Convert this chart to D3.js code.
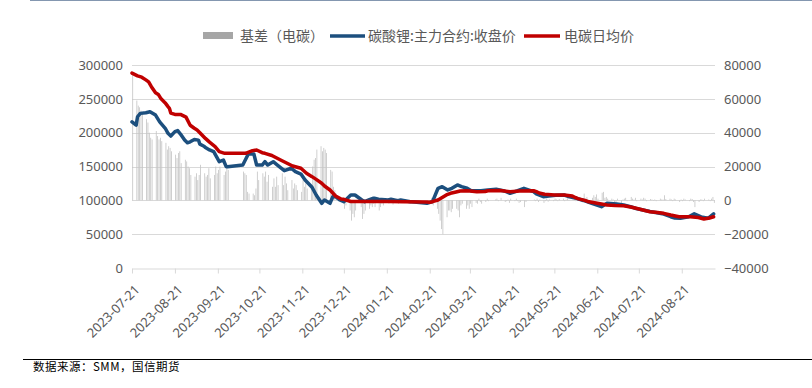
<!DOCTYPE html>
<html><head><meta charset="utf-8">
<script src="https://cdn.jsdelivr.net/npm/d3@7"></script>
<style>body{margin:0;background:#fff;} svg{display:block;}</style>
</head><body><svg id="chart" width="812" height="388"></svg>
<script>
// ---------- DATA ----------
const seriesNames = ["基差（电碳）", "碳酸锂:主力合约:收盘价", "电碳日均价"];
const sourceNote = "数据来源：SMM，国信期货";
const leftTicks = [0, 50000, 100000, 150000, 200000, 250000, 300000];
const rightTicks = [-40000, -20000, 0, 20000, 40000, 60000, 80000];
const xTickDates = ["2023-07-21","2023-08-21","2023-09-21","2023-10-21","2023-11-21","2023-12-21",
  "2024-01-21","2024-02-21","2024-03-21","2024-04-21","2024-05-21","2024-06-21","2024-07-21","2024-08-21"];
const axisStart = "2023-07-21", axisEnd = "2024-09-14";

// trading calendar for the basis bars
const basisStart = "2023-07-21", basisEnd = "2024-09-13";
const holidays = ["2023-09-29","2023-10-02","2023-10-03","2023-10-04","2023-10-05","2023-10-06","2024-01-01",
  "2024-02-09","2024-02-12","2024-02-13","2024-02-14","2024-02-15","2024-02-16","2024-04-04","2024-04-05",
  "2024-05-01","2024-05-02","2024-05-03","2024-06-10"];

// 基差（电碳） by month, one value per trading day
const basisJul23 = [74000, 59000, 56000, 55000, 53000, 51000, 48000];
const basisAug23 = [46000, 40000, 37000, 36000, 41000, 38000, 36000, 37000, 35000, 34000, 30000, 32000, 31000, 29000, 27000, 25000, 28000, 29000, 22000, 24000, 23000, 20000, 19000];
const basisSep23 = [15000, 14000, 16000, 12000, 15000, 21000, 16000, 14000, 15000, 19000, 13000, 15000, 20000, 16000, 18000, 20000, 15000, 17000, 19000, 18000];
const basisOct23 = [17000, 16000, 15000, 5000, 4000, 4000, 3000, 7000, 17000, 12000, 16000, 14000, 17000, 11000, 15000, 8000, 13000];
const basisNov23 = [8000, 14000, 9000, 16000, 9000, 14000, 10000, 6000, 12000, 7000, 10000, 9000, 6000, 5000, 12000, 8000, 10000, 7000, 8000, 20000, 24000, 25000];
const basisDec23 = [30000, 32000, 29000, 31000, 30000, 28000, 18000, 17000, 8000, 6000, 4000, 2000, 1000, -2000, -5000, -3000, -6000, -12000, -8000, -10000, -6000];
const basisJan24 = [-4000, -11000, -8000, -6000, -5000, -3000, -4000, -2000, -4000, -6000, -4000, -2000, -3000, -1500, -2000, -1000, -1500, -2500, -1000, -2000, -1000, -500];
const basisFeb24 = [-500, 500, -1000, 0, -1500, -1000, -1500, -2000, -2000, 1500, -3000, -5000, -8000, -12000, -17000];
const basisMar24 = [-20000, -10000, -6000, -6000, -7000, -5000, -5000, -6000, -10000, -3000, -2000, -5000, -3000, -5000, -2000, -4000, -1500, -2000, 1000, -1000, -2000];
const basisApr24 = [-1000, 1000, -500, 500, 1000, -500, 0, 1500, -1000, -500, 500, -1500, 1000, -500, 1000, -500, -1500, -1000, -4000, -1000];
const basisMay24 = [500, -500, 1000, -1000, 500, -1500, -500, 1000, -800, 500, -500, 1000, 500, -500, 800, 1000, -500, 500, 1200, -300];
const basisJun24 = [500, 1000, -500, 800, 1500, 4000, 1000, 2000, 500, 1500, 3000, 2000, 3500, 1000, 4500, 5000, 1500, 2000, 1000];
const basisJul24 = [1000, 500, -1000, -1500, 1000, -2000, 500, 1000, 1500, -500, 2000, 1000, 500, 1500, -500, 1000, 500, 1500, 1000, -500, 800, 500, -300];
const basisAug24 = [500, -500, 1000, 500, 500, 3000, 800, 1000, 500, -500, 1000, 500, -1000, 500, -500, 1000, 500, -500, 1000, 800, -1000, -4000];
const basisSep24 = [-1000, 500, 500, -500, 1000, 500, -500, 1000, 2000, -1500];

// 碳酸锂:主力合约:收盘价
const futDates = ["2023-07-21","2023-07-24","2023-07-25","2023-07-27","2023-07-31","2023-08-03","2023-08-07","2023-08-10","2023-08-14","2023-08-16","2023-08-18","2023-08-21","2023-08-23","2023-08-25","2023-08-28","2023-08-30","2023-09-01","2023-09-04","2023-09-07","2023-09-08","2023-09-11","2023-09-12","2023-09-15","2023-09-18","2023-09-20","2023-09-22","2023-09-25","2023-09-27","2023-09-28","2023-10-09","2023-10-13","2023-10-17","2023-10-19","2023-10-23","2023-10-25","2023-10-27","2023-10-31","2023-11-03","2023-11-08","2023-11-13","2023-11-16","2023-11-20","2023-11-23","2023-11-28","2023-12-01","2023-12-05","2023-12-07","2023-12-11","2023-12-13","2023-12-15","2023-12-18","2023-12-21","2023-12-26","2023-12-29","2024-01-03","2024-01-05","2024-01-08","2024-01-11","2024-01-12","2024-01-15","2024-01-22","2024-01-24","2024-01-29","2024-01-31","2024-02-07","2024-02-08","2024-02-19","2024-02-23","2024-02-27","2024-03-01","2024-03-05","2024-03-08","2024-03-12","2024-03-15","2024-03-19","2024-03-22","2024-03-26","2024-03-29","2024-04-03","2024-04-09","2024-04-15","2024-04-19","2024-04-24","2024-04-29","2024-05-06","2024-05-08","2024-05-13","2024-05-17","2024-05-22","2024-05-28","2024-05-31","2024-06-06","2024-06-11","2024-06-17","2024-06-24","2024-06-28","2024-07-05","2024-07-10","2024-07-15","2024-07-19","2024-07-24","2024-07-29","2024-08-02","2024-08-08","2024-08-13","2024-08-16","2024-08-20","2024-08-26","2024-08-30","2024-09-04","2024-09-09","2024-09-13"];
const futPrice = [216000,211000,223500,228500,229500,231000,226000,216000,206500,199000,195000,201500,203000,198000,189000,185000,186500,190000,189000,183000,180000,178000,174400,171900,164500,157100,159600,149700,149700,152200,168500,168500,152200,152200,157100,152200,157100,152200,143800,147400,142300,138900,130100,119300,107900,95600,100500,95600,105400,105400,100500,98000,107900,107900,100500,98000,100500,103000,103000,101500,100500,101500,99500,100500,98000,98000,95600,98000,117800,120200,115300,117800,122700,120200,117800,114200,114200,114200,115300,116300,113800,110400,113800,117800,112800,109400,105400,106400,107400,107900,105700,103000,99800,95600,90600,95600,94600,93100,90600,87900,85700,83500,82000,79800,75800,73900,73500,75800,80000,75500,73500,80000];

// 电碳日均价
const spotDates = ["2023-07-21","2023-07-25","2023-07-28","2023-07-31","2023-08-02","2023-08-04","2023-08-07","2023-08-09","2023-08-11","2023-08-14","2023-08-16","2023-08-17","2023-08-18","2023-08-21","2023-08-25","2023-08-29","2023-09-01","2023-09-04","2023-09-06","2023-09-08","2023-09-12","2023-09-15","2023-09-19","2023-09-22","2023-09-26","2023-09-28","2023-10-11","2023-10-16","2023-10-19","2023-10-23","2023-10-25","2023-10-30","2023-11-06","2023-11-14","2023-11-20","2023-11-24","2023-11-28","2023-12-01","2023-12-05","2023-12-07","2023-12-11","2023-12-15","2023-12-19","2023-12-21","2023-12-26","2024-01-08","2024-01-22","2024-02-02","2024-02-19","2024-02-21","2024-02-23","2024-02-27","2024-03-01","2024-03-04","2024-03-07","2024-03-11","2024-03-14","2024-03-18","2024-03-21","2024-03-26","2024-04-01","2024-04-03","2024-04-12","2024-04-19","2024-04-26","2024-05-06","2024-05-08","2024-05-10","2024-05-14","2024-05-21","2024-05-28","2024-06-03","2024-06-05","2024-06-07","2024-06-12","2024-06-14","2024-06-21","2024-06-28","2024-07-04","2024-07-10","2024-07-15","2024-07-19","2024-07-24","2024-07-29","2024-08-02","2024-08-08","2024-08-13","2024-08-19","2024-08-22","2024-08-27","2024-09-02","2024-09-06","2024-09-10","2024-09-13"];
const spotPrice = [288000,284000,282000,278000,275000,268000,259000,256500,250000,244000,238500,236000,229000,227000,227000,223000,211000,206500,204000,200000,191500,186000,179500,172000,169500,169500,169500,173400,174400,170400,169500,166300,158900,150800,147400,140000,135000,131000,125200,121200,115300,106400,102000,101500,98300,98300,98300,98000,97500,97100,98000,100500,104200,107900,110400,112300,113800,114200,113800,112800,113100,114200,114500,112800,113800,114200,112800,110800,108900,107900,107900,106400,104200,102500,100000,98300,95600,93100,92400,92100,90200,88200,85700,83200,82300,80800,78300,75800,75800,75800,74600,72400,73900,75800];

// ---------- DRAW ----------
const parse = d3.utcParse("%Y-%m-%d");
const fmt = d3.utcFormat("%Y-%m-%d");
const svg = d3.select("#chart");
const axisFont = "'Noto Sans', 'DejaVu Sans', sans-serif";
const cjkFont = "'Noto Sans CJK SC', 'Noto Sans', sans-serif";
const textColor = "#595959";
const gridColor = "#d9d9d9";
const blue = "#1c4f7e", red = "#c00000", gray = "#c4c4c4";

const x = d3.scaleUtc().domain([parse(axisStart), parse(axisEnd)]).range([132, 715]);
const yL = d3.scaleLinear().domain([0, 300000]).range([268, 65]);
const yR = d3.scaleLinear().domain([-40000, 80000]).range([268, 65]);

// top rule
svg.append("line").attr("x1", 30).attr("x2", 812).attr("y1", 0.5).attr("y2", 0.5)
  .attr("stroke", "#8497b0").attr("stroke-width", 1);

// gridlines
svg.append("g").selectAll("line").data(leftTicks.filter(t => t > 0)).join("line")
  .attr("x1", 132).attr("x2", 715)
  .attr("y1", d => Math.round(yL(d)) + 0.5).attr("y2", d => Math.round(yL(d)) + 0.5)
  .attr("stroke", gridColor).attr("stroke-width", 1);

// basis bars
const holidaySet = new Set(holidays);
const tradingDays = d3.utcDays(parse(basisStart), d3.utcDay.offset(parse(basisEnd), 1))
  .filter(d => d.getUTCDay() !== 0 && d.getUTCDay() !== 6 && !holidaySet.has(fmt(d)));
const basisAll = [].concat(basisJul23, basisAug23, basisSep23, basisOct23, basisNov23, basisDec23,
  basisJan24, basisFeb24, basisMar24, basisApr24, basisMay24, basisJun24, basisJul24, basisAug24, basisSep24);
const n = Math.min(tradingDays.length, basisAll.length);
const bars = d3.range(n).map(i => ({date: tradingDays[i], v: basisAll[i]}));
svg.append("g").selectAll("rect").data(bars).join("rect")
  .attr("x", d => x(d.date) + 0.3)
  .attr("width", 0.8)
  .attr("y", d => Math.min(yR(d.v), yR(0)))
  .attr("height", d => Math.abs(yR(d.v) - yR(0)))
  .attr("fill", gray);

// x axis
const xAxis = d3.axisBottom(x).tickValues(xTickDates.map(parse)).tickSize(5).tickSizeOuter(0)
  .tickFormat(fmt);
const gx = svg.append("g").attr("transform", "translate(0,268.5)").call(xAxis);
gx.select(".domain").attr("stroke", gridColor);
gx.selectAll(".tick line").attr("stroke", gridColor);
gx.selectAll(".tick text")
  .attr("x", 0).attr("y", 0).attr("dy", 0)
  .attr("transform", "translate(8,22) rotate(-45)")
  .attr("text-anchor", "end")
  .attr("fill", textColor).attr("font-size", 13).attr("font-family", axisFont);

// left axis
const gl = svg.append("g").attr("transform", "translate(132,0)")
  .call(d3.axisLeft(yL).tickValues(leftTicks).tickSize(0).tickPadding(9).tickFormat(d3.format("d")));
gl.select(".domain").remove();
gl.selectAll("text").attr("fill", textColor).attr("font-size", 13).attr("font-family", axisFont);

// right axis
const gr = svg.append("g").attr("transform", "translate(715,0)")
  .call(d3.axisRight(yR).tickValues(rightTicks).tickSize(0).tickPadding(9).tickFormat(d3.format("d")));
gr.select(".domain").remove();
gr.selectAll("text").attr("fill", textColor).attr("font-size", 13).attr("font-family", axisFont);

// lines
const line = d3.line().x(d => x(d.date)).y(d => yL(d.v));
const fut = futDates.map((d, i) => ({date: parse(d), v: futPrice[i]}));
const spot = spotDates.map((d, i) => ({date: parse(d), v: spotPrice[i]}));
svg.append("path").datum(fut).attr("d", line).attr("fill", "none")
  .attr("stroke", blue).attr("stroke-width", 3.5).attr("stroke-linejoin", "round").attr("stroke-linecap", "round");
svg.append("path").datum(spot).attr("d", line).attr("fill", "none")
  .attr("stroke", red).attr("stroke-width", 3.5).attr("stroke-linejoin", "round").attr("stroke-linecap", "round");

// legend
const lg = svg.append("g");
lg.append("rect").attr("x", 203).attr("y", 32).attr("width", 30).attr("height", 7).attr("fill", "#a6a6a6");
lg.append("text").attr("x", 240).attr("y", 41).text(seriesNames[0]);
lg.append("line").attr("x1", 330).attr("x2", 365).attr("y1", 36).attr("y2", 36).attr("stroke", blue).attr("stroke-width", 3.5);
lg.append("text").attr("x", 368).attr("y", 41).text(seriesNames[1]);
lg.append("line").attr("x1", 524).attr("x2", 560).attr("y1", 36).attr("y2", 36).attr("stroke", red).attr("stroke-width", 3.5);
lg.append("text").attr("x", 564).attr("y", 41).text(seriesNames[2]);
lg.selectAll("text").attr("fill", textColor).attr("font-size", 14).attr("font-family", cjkFont);

// footer
svg.append("line").attr("x1", 23).attr("x2", 812).attr("y1", 359.5).attr("y2", 359.5)
  .attr("stroke", "#000").attr("stroke-width", 1);
svg.append("text").attr("x", 33).attr("y", 371).text(sourceNote)
  .attr("fill", "#000").attr("font-size", 11.5).attr("font-family", cjkFont)
  .attr("letter-spacing", 0.5);
</script>
</body></html>
